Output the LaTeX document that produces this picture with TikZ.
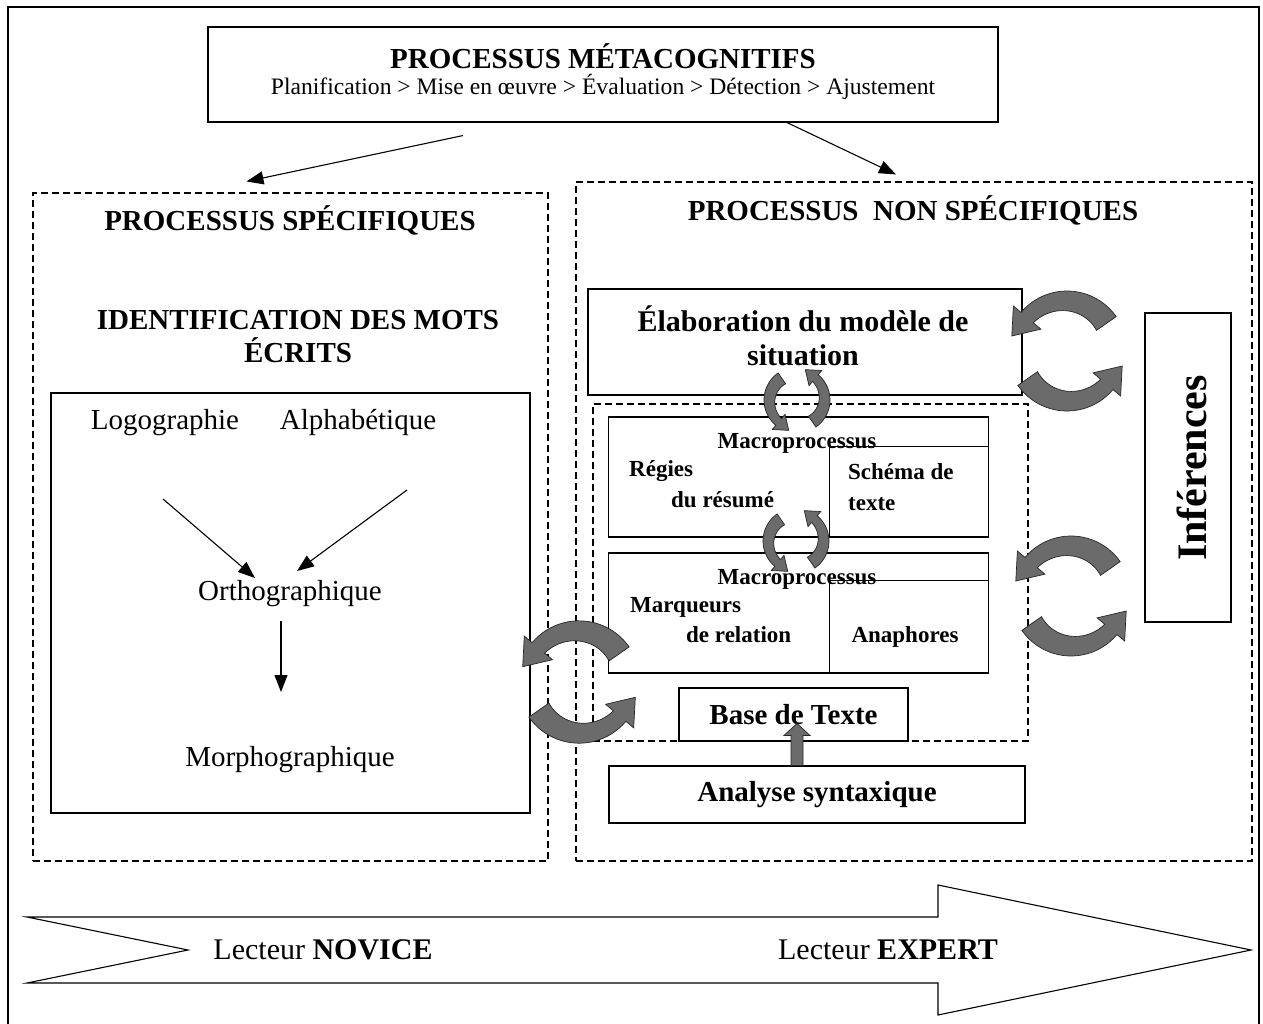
\documentclass[tikz,border=0pt]{standalone}
\usepackage{fontspec}
\setmainfont{Liberation Serif}
\usetikzlibrary{arrows.meta,calc}

\tikzset{
	curl/.pic={
		\filldraw[fill=black!58, draw=black!85, line width=0.7pt]
			plot[domain=35:140, samples=25] ({60*cos(\x)},{-60*sin(\x)})
			-- ({70*cos(140)},{-70*sin(140)})
			-- (-55.2,-15)
			-- ({34*cos(140)},{-34*sin(140)})
			-- ({44*cos(140)},{-44*sin(140)})
			-- plot[domain=140:35, samples=25] ({(44-8*(140-\x)/105)*cos(\x)},{-(44-8*(140-\x)/105)*sin(\x)})
			-- cycle;
	}
}

\begin{document}
\begin{tikzpicture}[x=1pt, y=-1pt,
	box/.style={draw, line width=1.1pt},
	dbox/.style={draw, line width=1.1pt, dash pattern=on 7pt off 4pt},
	hdtext/.style={font=\fontsize{29}{33}\selectfont\bfseries},
	rmtext/.style={font=\fontsize{29}{33}\selectfont},
	smtext/.style={font=\fontsize{23}{26}\selectfont\bfseries},
	arr/.style={line width=1.1pt, -{Triangle[length=17pt,width=13pt]}},
	every node/.style={inner sep=0pt}]

	\useasboundingbox (0,0) rectangle (1263,1024);
	\draw [line width=1.5pt] (8,1024) -- (8,7) -- (1259,7) -- (1259,1024);

	% metacognition
	\node [box, minimum width=790, minimum height=95] (meta) at (603,74.5) {};
	\node [hdtext] (metat) at (603,56) {PROCESSUS MÉTACOGNITIFS};
	\node [font=\fontsize{23.6}{26}\selectfont] (metas) at (603,87) {Planification > Mise en œuvre > Évaluation > Détection > Ajustement};

	\node [dbox, minimum width=515, minimum height=668] (spec) at (290.5,527) {};
	\node [dbox, minimum width=676, minimum height=679] (nspec) at (914,521.5) {};

	\draw [arr] ($(meta.south)+(-140,13)$) -- ($(spec.north)+(-44,-11)$);
	\draw [arr] ($(meta.south)+(184,0)$) -- ($(nspec.north)+(-18,-7)$);

	\node [hdtext] (spect) at (290,220) {PROCESSUS SPÉCIFIQUES};
	\node [hdtext] (nspect) at (913,210) {PROCESSUS\ \ NON SPÉCIFIQUES};

	% left side
	\node [hdtext, align=center] (ident) at (298,337) {IDENTIFICATION DES MOTS\\ÉCRITS};
	\node [box, minimum width=479, minimum height=420] (words) at (290.5,603) {};
	\node [rmtext] (logo) at (165,423) {Logographie};
	\node [rmtext] (alpha) at (358,423) {Alphabétique};
	\node [rmtext] (ortho) at (290,594) {Orthographique};
	\node [rmtext] (morpho) at (290,760) {Morphographique};
	\draw [arr] ($(logo)+(-2,76)$) -- ($(ortho)+(-35,-16)$);
	\draw [arr] ($(alpha)+(49,67)$) -- ($(ortho)+(7,-23)$);
	\draw [arr] ($(ortho)+(-9,27)$) -- ($(morpho)+(-9,-68)$);

	% right side
	\node [box, minimum width=434, minimum height=106] (elab) at (805,342) {};
	\node [font=\fontsize{30}{34}\selectfont\bfseries, align=center] (elabt) at (803,336) {Élaboration du modèle de\\situation};
	\node [dbox, minimum width=435, minimum height=337] (inner) at (810.5,572.5) {};

	\node [box, minimum width=380, minimum height=120] (mac1) at (798.5,477) {};
	\draw [line width=1.1pt] ($(mac1.north east)+(0,30)$) -- ($(mac1.north east)+(-160,30)$) coordinate (cut1) -- (cut1 |- mac1.south);
	\node [smtext] (macro1) at (797,443) {Macroprocessus};
	\node [smtext, anchor=west] (regies) at (629,471) {Régies};
	\node [smtext, anchor=west] (resume) at (671,500) {du résumé};
	\node [smtext, anchor=west] (schema) at (848,472) {Schéma de};
	\node [smtext, anchor=west] (texte) at (848,504) {texte};

	\node [box, minimum width=380, minimum height=120] (mac2) at (798.5,613) {};
	\draw [line width=1.1pt] ($(mac2.north east)+(0,28)$) -- ($(mac2.north east)+(-160,28)$) coordinate (cut2) -- (cut2 |- mac2.south);
	\node [smtext] (macro2) at (797,579) {Macroprocessus};
	\node [smtext, anchor=west] (marq) at (630,607) {Marqueurs};
	\node [smtext, anchor=west] (rel) at (686,635) {de relation};
	\node [smtext] (anaph) at (905,637) {Anaphores};

	\node [box, hdtext, minimum width=229, minimum height=53] (base) at (793.5,714.5) {Base de Texte};
	\node [box, hdtext, minimum width=416, minimum height=57] (ana) at (817,794.5) {Analyse syntaxique};
	\coordinate (upfoot) at ($(ana.north)+(-20,0)$);
	\filldraw [fill=black!58, draw=black!85, line width=0.7pt] (upfoot) ++(-6,0) -- ++(0,-30) -- ++(-7,0) -- ($(upfoot)+(0,-42)$) -- ($(upfoot)+(13,-30)$) -- ++(-7,0) -- ++(0,30) -- cycle;

	\node [box, minimum width=86, minimum height=309] (inf) at (1188,467.5) {};
	\node [font=\fontsize{42}{46}\selectfont\bfseries, rotate=90] (inft) at (1192,468) {Inférences};

	% curved arrows
	\pic at (1067,351) {curl};
	\pic [rotate=180] at (1067,351) {curl};
	\pic at (1071,596) {curl};
	\pic [rotate=180] at (1071,596) {curl};
	\pic [scale=1.02] at (579,682) {curl};
	\pic [rotate=180, scale=1.02] at (579,682) {curl};
	\pic [rotate=90, scale=0.55] at (797,400) {curl};
	\pic [rotate=270, scale=0.55] at (797,400) {curl};
	\pic [rotate=90, scale=0.55] at (796,541) {curl};
	\pic [rotate=270, scale=0.55] at (796,541) {curl};

	% reader axis
	\draw [line width=1.1pt] (27,917) -- (938,917) -- (938,885) -- (1251,950) -- (938,1015) -- (938,983) -- (27,983) -- (188,950) -- cycle;
	\node [font=\fontsize{30}{34}\selectfont] (novice) at (323,950) {Lecteur \textbf{NOVICE}};
	\node [font=\fontsize{30}{34}\selectfont] (expert) at (888,950) {Lecteur \textbf{EXPERT}};
\end{tikzpicture}
\end{document}
